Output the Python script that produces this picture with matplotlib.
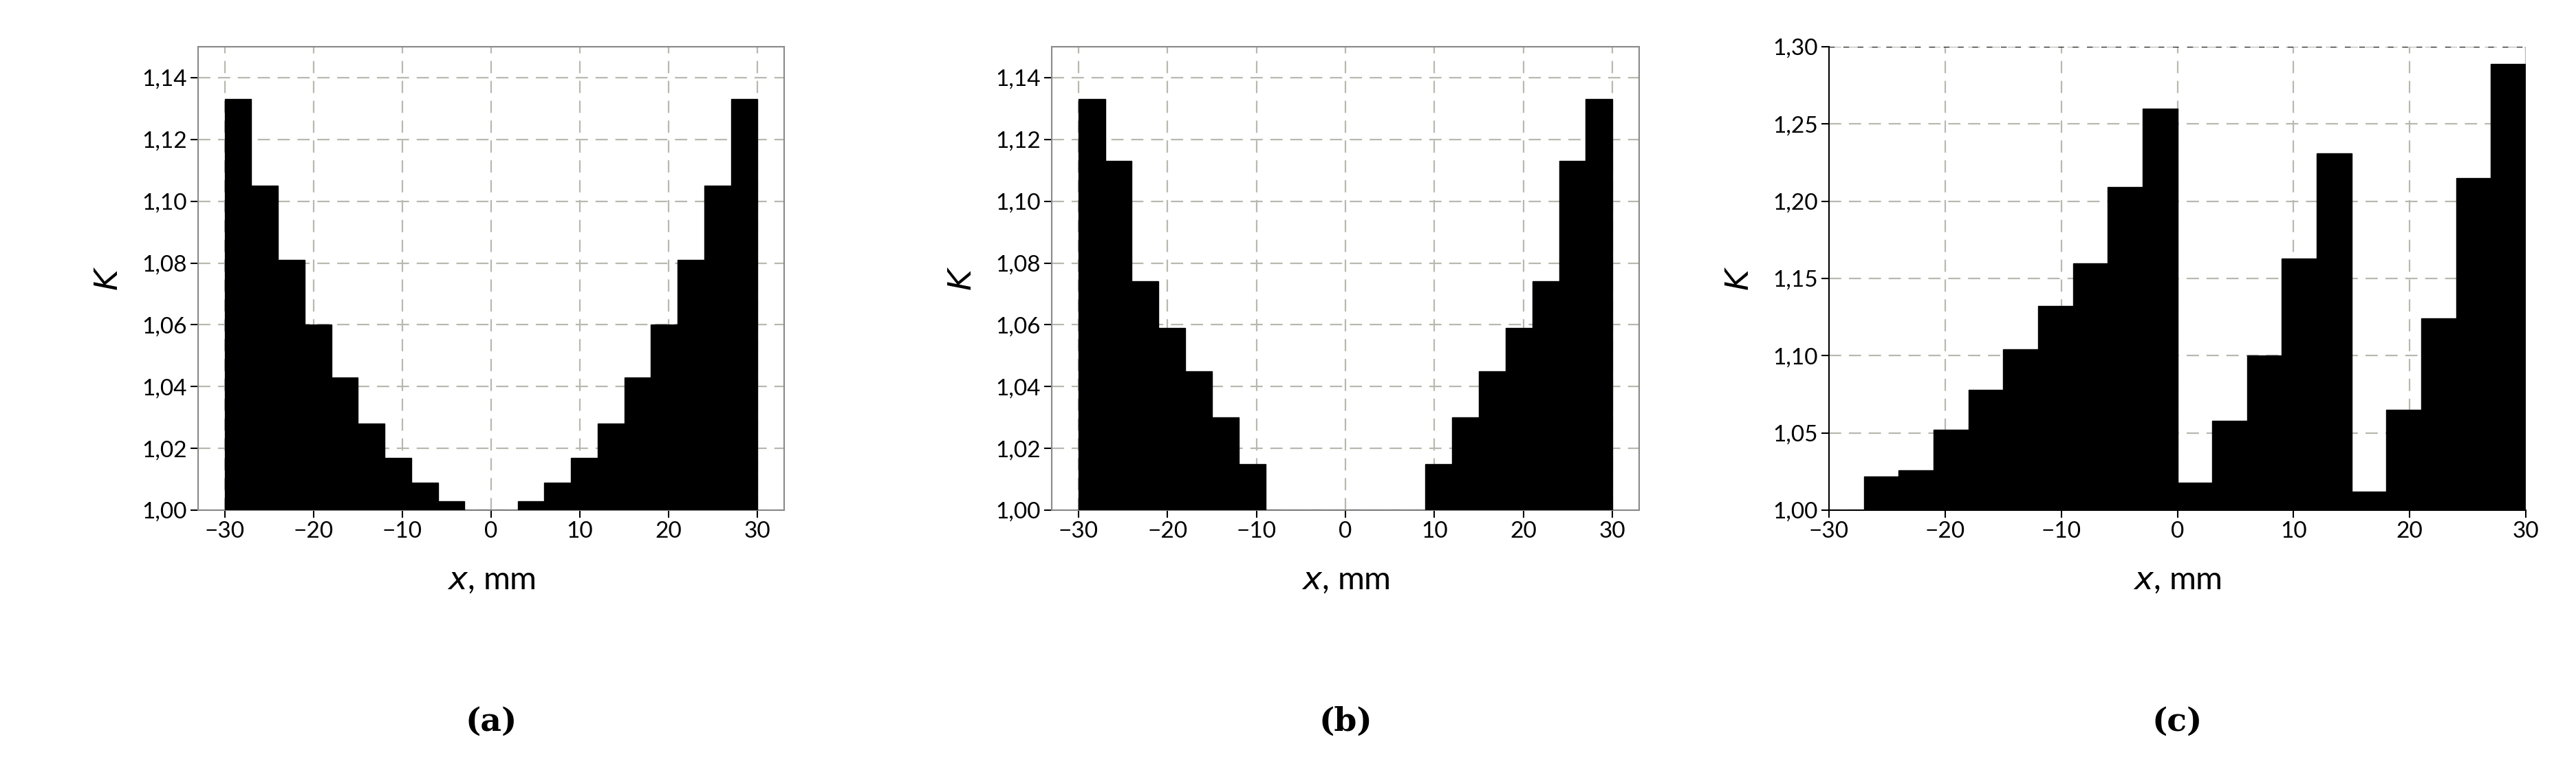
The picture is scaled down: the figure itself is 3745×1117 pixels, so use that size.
import numpy as np
import matplotlib.pyplot as plt

plt.rcParams['font.family'] = ['Lato', 'DejaVu Sans']

# bin edges, 3 mm wide
edges = np.arange(-30, 31, 3)

k_a = [1.133, 1.105, 1.081, 1.060, 1.043, 1.028, 1.017, 1.009, 1.003, 1.000,
       1.000, 1.003, 1.009, 1.017, 1.028, 1.043, 1.060, 1.081, 1.105, 1.133]
k_b = [1.133, 1.113, 1.074, 1.059, 1.045, 1.030, 1.015, 1.000, 1.000, 1.000,
       1.000, 1.000, 1.000, 1.015, 1.030, 1.045, 1.059, 1.074, 1.113, 1.133]
k_c = [1.000, 1.022, 1.026, 1.052, 1.078, 1.104, 1.132, 1.160, 1.209, 1.260,
       1.018, 1.058, 1.100, 1.163, 1.231, 1.012, 1.065, 1.124, 1.215, 1.289]

panels = [
    (k_a, (1.00, 1.15), np.arange(1.00, 1.141, 0.02), '(a)'),
    (k_b, (1.00, 1.15), np.arange(1.00, 1.141, 0.02), '(b)'),
    (k_c, (1.00, 1.30), np.arange(1.00, 1.301, 0.05), '(c)'),
]
boxes = [(288, 1140), (1529, 2383), (2659, 3672)]

W, H = 3745, 1117
fig = plt.figure(figsize=(W / 100, H / 100), dpi=100)

for (vals, ylim, yticks, tag), (x0, x1) in zip(panels, boxes):
    ax = fig.add_axes([x0 / W, 1 - 742 / H, (x1 - x0) / W, (742 - 68) / H])
    vals = np.array(vals)
    ax.bar(edges[:-1], vals - 1.0, width=3, bottom=1.0, align='edge',
           color='black', edgecolor='black', linewidth=1, zorder=3)
    ax.set_xlim(-33, 33)
    ax.set_ylim(*ylim)
    ax.set_xticks(np.arange(-30, 31, 10))
    ax.set_yticks(yticks)
    ax.set_yticklabels([f'{t:.2f}'.replace('.', ',') for t in yticks])
    ax.grid(True, color='#b8b8b0', linestyle=(0, (8, 5)), linewidth=1.6, zorder=0)
    ax.tick_params(labelsize=24, length=8, width=1.5, direction='out')
    for s in ax.spines.values():
        s.set_color('#888888')
        s.set_linewidth(1.5)
    if tag == '(c)':
        ax.set_xlim(-30, 30)
        ax.spines['top'].set_visible(False)
        ax.spines['right'].set_visible(False)
        ax.spines['left'].set_color('black')
        ax.spines['bottom'].set_color('black')
        ax.axhline(1.30, color='black', linestyle=(0, (4, 6)), linewidth=1.5, zorder=4)
        ax.axvline(30, color='#b8b8b0', linewidth=1.6, zorder=0)
    ax.set_xlabel('$\\it{x}$, mm', fontsize=34, labelpad=25)
    ax.set_ylabel('$\\it{K}$', fontsize=34, labelpad=20)
    fig.text((x0 + x1) / 2 / W, 1 - 1050 / H, tag, ha='center', va='center',
             fontsize=34, family='DejaVu Serif', fontweight='bold')

fig.savefig('out.png', dpi=100)
